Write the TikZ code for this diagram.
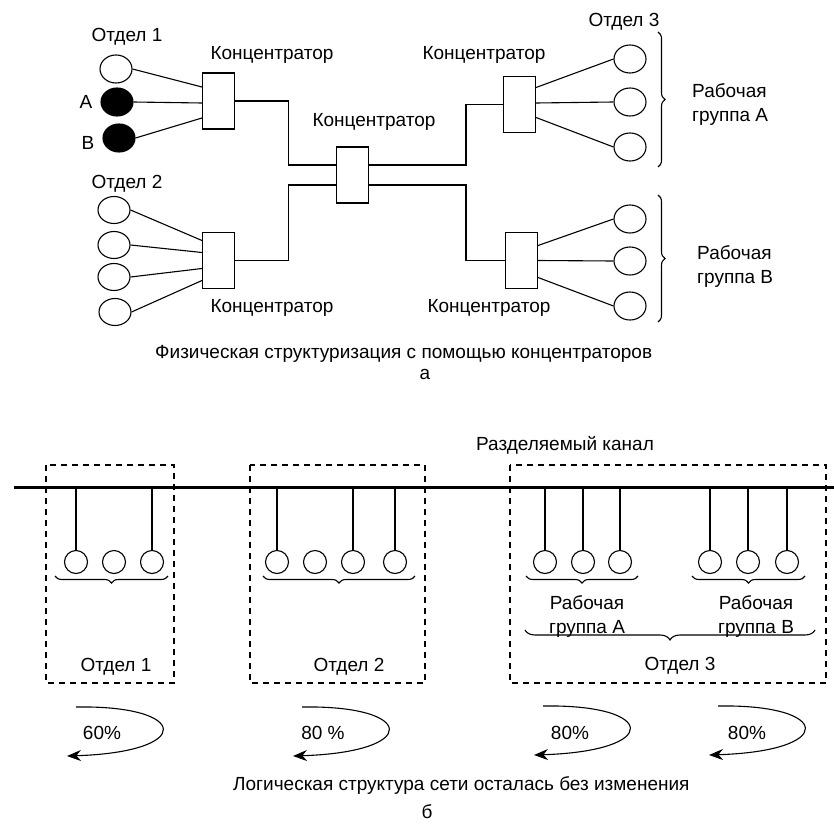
\documentclass[tikz,border=0pt]{standalone}
\usepackage{fontspec}
\setmainfont{Liberation Sans}
\usetikzlibrary{calc,decorations.pathreplacing,arrows.meta,shapes.geometric}
\begin{document}
\begin{tikzpicture}[x=1pt,y=-1pt,
  every node/.style={font=\fontsize{19}{24}\selectfont, inner sep=0pt},
  hubbox/.style={draw, line width=1.1pt, minimum width=32pt, minimum height=56pt, fill=white},
  wsw/.style={draw, ellipse, line width=1.1pt, minimum width=32pt, minimum height=28pt, fill=white},
  wsb/.style={wsw, fill=black},
  pc/.style={draw, circle, line width=1.1pt, minimum size=23pt},
  wire/.style={line width=1.1pt},
  grp/.style={draw, dash pattern=on 6pt off 5pt, line width=1.2pt},
  brc/.style={decorate, decoration={brace, amplitude=7pt}, line width=1.1pt},
  bigbrc/.style={decorate, decoration={brace, amplitude=10pt}, line width=1.1pt},
  loop/.style={line width=1.1pt, -{Stealth[length=14pt,width=11pt]}},
]
\useasboundingbox (0,0) rectangle (834,824);

% ---------------- top part ----------------
\node (hub1) [hubbox] at (218.5,101) {};
\node (hubC) [hubbox] at (352.5,175) {};
\node (hub2) [hubbox] at (218.5,260.5) {};
\node (hub3) [hubbox] at (519.5,104.5) {};
\node (hub4) [hubbox] at (521.5,260.5) {};

\node (t1) at (127,37) {Отдел 1};
\node (t2) at (127,184) {Отдел 2};
\node (t3) at (624,22) {Отдел 3};
\node (k1) at (272,55) {Концентратор};
\node (kC) at (374,122) {Концентратор};
\node (k3) at (484,55) {Концентратор};
\node (k2) at (272,308) {Концентратор};
\node (k4) at (489,308) {Концентратор};

\node (o1) [wsw] at (116,69) {};
\node (oA) [wsb] at (117,102) {};
\node (oB) [wsb] at (119,138) {};
\node (lA) at (86,102) {А};
\node (lB) at (88,143) {В};

\node (d1) [wsw, minimum height=27pt] at (114,210) {};
\node (d2) [wsw, minimum height=27pt] at (114,245) {};
\node (d3) [wsw, minimum height=27pt] at (114,277) {};
\node (d4) [wsw, minimum height=27pt] at (115,312) {};

\node (a1) [wsw] at (630,59) {};
\node (a2) [wsw] at (630,102) {};
\node (a3) [wsw] at (630,147) {};
\node (b1) [wsw] at (630,219) {};
\node (b2) [wsw] at (630,261) {};
\node (b3) [wsw] at (630,306) {};

\draw[wire] (o1.east) -- ($(hub1.west)+(0,-14)$);
\draw[wire] (oA.east) -- ($(hub1.west)+(0,2)$);
\draw[wire] (oB.east) -- ($(hub1.west)+(0,17)$);

\draw[wire] (d1.east) -- ($(hub2.west)+(0,-20)$);
\draw[wire] (d2.east) -- ($(hub2.west)+(0,-8)$);
\draw[wire] (d3.east) -- ($(hub2.west)+(0,8)$);
\draw[wire] (d4.east) -- ($(hub2.west)+(0,20)$);

\draw[wire] ($(hub3.east)+(0,-17)$) -- (a1.west);
\draw[wire] ($(hub3.east)+(0,-1.5)$) -- (a2.west);
\draw[wire] ($(hub3.east)+(0,13)$) -- (a3.west);
\draw[wire] ($(hub4.east)+(0,-15)$) -- (b1.west);
\draw[wire] (hub4.east) -- (b2.west);
\draw[wire] ($(hub4.east)+(0,17)$) -- (b3.west);

\draw[wire] (hub1.east) -- ++(53,0) |- ($(hubC.west)+(0,-10)$);
\draw[wire] (hub2.east) -- ++(53,0) |- ($(hubC.west)+(0,10)$);
\draw[wire] ($(hubC.east)+(0,-10)$) -- (466,165) |- (hub3.west);
\draw[wire] ($(hubC.east)+(0,10)$) -- (466,185) |- (hub4.west);

\coordinate (bAt) at (658,32);
\coordinate (bAb) at (658,167);
\coordinate (bBt) at (658,195);
\coordinate (bBb) at (658,322);
\draw[brc] (bAt) -- (bAb);
\draw[brc] (bBt) -- (bBb);
\node (gA) [anchor=west, align=left] at (692,105) {Рабочая\\группа А};
\node (gB) [anchor=west, align=left] at (697,267) {Рабочая\\группа В};

\node (cap1) [anchor=west] at (155,354) {Физическая структуризация с помощью концентраторов};
\node (capa) at (425,374) {а};

% ---------------- bottom part ----------------
\node (chan) at (565,445) {Разделяемый канал};
\coordinate (chL) at (14,487);
\coordinate (chR) at (834,487);

\draw[grp] (46,465) rectangle (174,683);
\draw[grp] (250,465) rectangle (425,683);
\draw[grp] (510,465) rectangle (826,683);

\draw[line width=3pt] (chL) -- (chR);

\foreach \n/\x in {p11/76,p12/114,p13/152,p21/277,p22/315,p23/353,p24/395,
                   pA1/545,pA2/583,pA3/620,pB1/710,pB2/748,pB3/787}
  \node (\n) [pc] at (\x,562) {};

\foreach \n in {p11,p13,p21,p23,p24,pA1,pA2,pA3,pB1,pB2,pB3}
  \draw[wire] (\n.north) -- (\n.north |- chL);

\draw[brc] (168,576) -- (55,576);
\draw[brc] (415,576) -- (263,576);
\draw[brc] (638,576) -- (526,576);
\draw[brc] (805,576) -- (692,576);
\draw[bigbrc] (815,630) -- (525,630);

\node (rgA) [align=center] at (587,616) {Рабочая\\группа А};
\node (rgB) [align=center] at (756,616) {Рабочая\\группа В};

\node (o1b) at (116,667) {Отдел 1};
\node (o2b) at (349,667) {Отдел 2};
\node (o3b) at (680,666) {Отдел 3};

\foreach \i/\sx/\sy/\lab/\lx in {1/76/707/60\%/102, 2/302/707/80 \%/323, 3/543/706/80\%/570, 4/718/706/80\%/747}{
  \coordinate (s\i) at (\sx,\sy);
  \coordinate (e\i) at ($(s\i)+(-9,49)$);
  \draw[loop] (s\i) .. controls ($(s\i)+(114,-2)$) and ($(s\i)+(119,45)$) .. (e\i);
  \node (pct\i) at (\lx,733) {\lab};
}

\node (cap2) [anchor=west] at (233,785) {Логическая структура сети осталась без изменения};
\node (capb) at (427,812) {б};
\end{tikzpicture}
\end{document}
